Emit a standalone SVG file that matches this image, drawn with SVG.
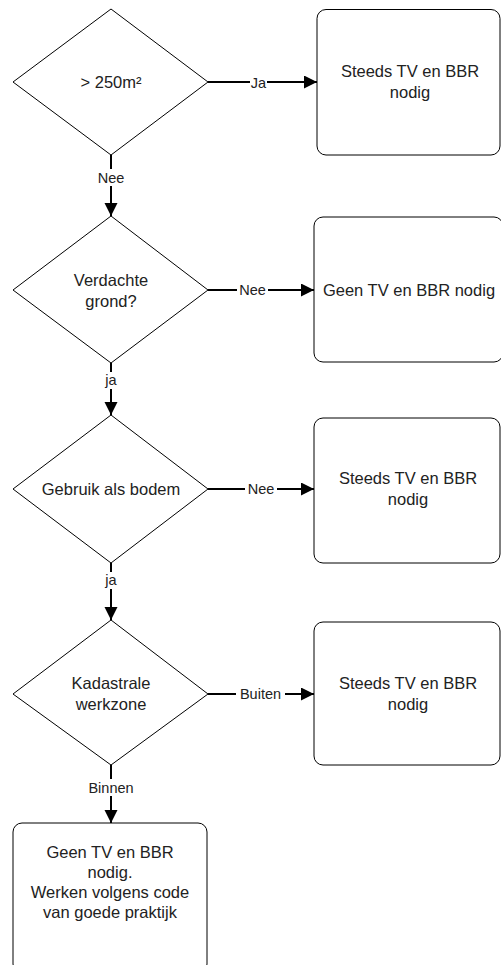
<svg xmlns="http://www.w3.org/2000/svg" width="501" height="965" viewBox="0 0 501 965">
<style>
.shape{fill:#fff;stroke:#000;stroke-width:1}
.t{font-family:"Liberation Sans",Arial,sans-serif;font-size:16.5px;fill:#222;text-anchor:middle}
.lbl{font-family:"Liberation Sans",Arial,sans-serif;font-size:14.5px;fill:#222;text-anchor:middle}
.c{stroke:#000;stroke-width:2;fill:none}
.bg{fill:#fff}
</style>
<defs>
<marker id="arr" markerUnits="userSpaceOnUse" markerWidth="14" markerHeight="14" refX="13" refY="6.5" orient="auto">
<path d="M0,0 L13,6.5 L0,13 z" fill="#000"/>
</marker>
</defs>
<rect width="501" height="965" fill="#fff"/>
<g id="connectors">
<line class="c" x1="208" y1="82" x2="317" y2="82" marker-end="url(#arr)"/>
<line class="c" x1="111" y1="155" x2="111" y2="216" marker-end="url(#arr)"/>
<line class="c" x1="208" y1="290" x2="314" y2="290" marker-end="url(#arr)"/>
<line class="c" x1="111" y1="363" x2="111" y2="415" marker-end="url(#arr)"/>
<line class="c" x1="208" y1="489" x2="314" y2="489" marker-end="url(#arr)"/>
<line class="c" x1="111" y1="563" x2="111" y2="620" marker-end="url(#arr)"/>
<line class="c" x1="208" y1="694" x2="314" y2="694" marker-end="url(#arr)"/>
<line class="c" x1="111" y1="765" x2="111" y2="823" marker-end="url(#arr)"/>
<rect class="bg" x="250" y="74" width="17" height="16"/>
<text class="lbl" x="258.5" y="87.5">Ja</text>
<rect class="bg" x="96" y="169" width="30" height="17"/>
<text class="lbl" x="111" y="183">Nee</text>
<rect class="bg" x="237" y="282" width="31" height="16"/>
<text class="lbl" x="252.5" y="295">Nee</text>
<rect class="bg" x="104" y="372" width="14" height="17"/>
<text class="lbl" x="111" y="385">ja</text>
<rect class="bg" x="245" y="481" width="32" height="16"/>
<text class="lbl" x="261" y="494">Nee</text>
<rect class="bg" x="104" y="572" width="14" height="17"/>
<text class="lbl" x="111" y="585">ja</text>
<rect class="bg" x="236" y="686" width="49" height="16"/>
<text class="lbl" x="260.5" y="699">Buiten</text>
<rect class="bg" x="86" y="779" width="50" height="17"/>
<text class="lbl" x="111" y="793">Binnen</text>
</g>
<g id="d1">
<polygon class="shape" points="111,9 208,82 111,155 13,82"/>
<text class="t" x="111" y="88">&gt; 250m²</text>
</g>
<g id="b1">
<rect class="shape" x="317" y="9.5" width="183" height="145.5" rx="9"/>
<text class="t" x="410" y="77">Steeds TV en BBR</text>
<text class="t" x="410" y="98">nodig</text>
</g>
<g id="d2">
<polygon class="shape" points="111,216 208,290 111,363 13,290"/>
<text class="t" x="111" y="286">Verdachte</text>
<text class="t" x="111" y="307">grond?</text>
</g>
<g id="b2">
<rect class="shape" x="314" y="217" width="189" height="145" rx="9"/>
<text class="t" x="409" y="296">Geen TV en BBR nodig</text>
</g>
<g id="d3">
<polygon class="shape" points="111,415 208,489 111,563 13,489"/>
<text class="t" x="111" y="495">Gebruik als bodem</text>
</g>
<g id="b3">
<rect class="shape" x="314" y="418" width="186" height="145" rx="9"/>
<text class="t" x="408" y="484">Steeds TV en BBR</text>
<text class="t" x="408" y="505">nodig</text>
</g>
<g id="d4">
<polygon class="shape" points="111,620 208,694 111,765 13,694"/>
<text class="t" x="111" y="689">Kadastrale</text>
<text class="t" x="111" y="710">werkzone</text>
</g>
<g id="b4">
<rect class="shape" x="314" y="622" width="186" height="143" rx="9"/>
<text class="t" x="408" y="689">Steeds TV en BBR</text>
<text class="t" x="408" y="710">nodig</text>
</g>
<g id="b5">
<rect class="shape" x="13" y="823" width="194" height="150" rx="9"/>
<text class="t" x="110" y="858">Geen TV en BBR</text>
<text class="t" x="110" y="878">nodig.</text>
<text class="t" x="110" y="898">Werken volgens code</text>
<text class="t" x="110" y="918">van goede praktijk</text>
</g>
</svg>
